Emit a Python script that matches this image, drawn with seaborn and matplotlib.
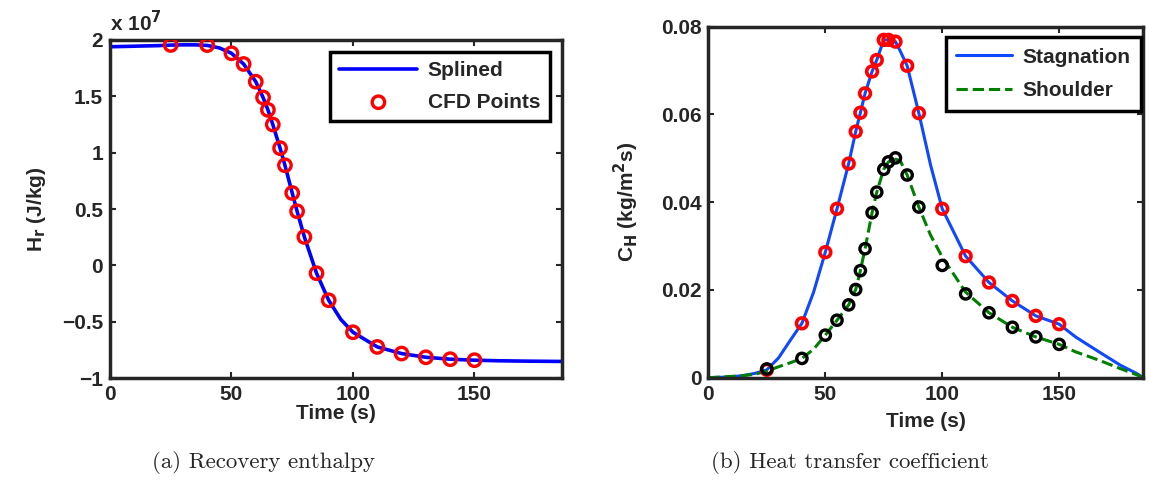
import numpy as np
import pandas as pd
import seaborn as sns
import matplotlib
import matplotlib.pyplot as plt

matplotlib.use("Agg")
sns.set_style("ticks")
plt.rcParams["font.family"] = ["Liberation Sans", "DejaVu Sans"]
plt.rcParams["font.weight"] = "bold"
plt.rcParams["mathtext.default"] = "bf"
plt.rcParams["axes.linewidth"] = 2.5

# CFD sample times (s)
t_cfd = [25, 40, 50, 55, 60, 63, 65, 67, 70, 72, 75, 77, 80, 85, 90,
         100, 110, 120, 130, 140, 150]

# Recovery enthalpy at CFD points (x 1e7 J/kg)
h_cfd = [1.956, 1.955, 1.882, 1.787, 1.63, 1.49, 1.38, 1.25, 1.04, 0.888,
         0.642, 0.48, 0.252, -0.07, -0.31, -0.594, -0.724, -0.783, -0.816,
         -0.833, -0.842]

# Splined enthalpy curve
t_spl = [0, 10, 20, 25, 30, 35, 40, 45, 50, 55, 60, 63, 65, 67, 70, 72, 75,
         77, 80, 85, 90, 95, 100, 110, 120, 130, 140, 150, 160, 170, 180, 186]
h_spl = [1.94, 1.945, 1.95, 1.955, 1.957, 1.957, 1.952, 1.93, 1.882, 1.787,
         1.63, 1.49, 1.38, 1.25, 1.04, 0.888, 0.642, 0.48, 0.252, -0.07,
         -0.31, -0.48, -0.594, -0.724, -0.783, -0.816, -0.833, -0.842,
         -0.847, -0.85, -0.852, -0.853]

# Heat transfer coefficient at CFD points (kg/m^2 s)
ch_stag_cfd = [0.0018, 0.0124, 0.0286, 0.0385, 0.0488, 0.0561, 0.0604,
               0.0648, 0.0698, 0.0724, 0.077, 0.077, 0.0766, 0.0711, 0.0603,
               0.0385, 0.0277, 0.0217, 0.0175, 0.0141, 0.0122]
ch_shou_cfd = [0.002, 0.0044, 0.0097, 0.0131, 0.0166, 0.0201, 0.0244,
               0.0294, 0.0376, 0.0423, 0.0475, 0.0492, 0.0501, 0.0462, 0.0389,
               0.0256, 0.0191, 0.0148, 0.0115, 0.0093, 0.0076]

# Spline curves for C_H
t_ch = [0, 10, 15, 20, 25, 30, 35, 40, 45, 50, 55, 60, 63, 65, 67, 70, 72,
        75, 77, 80, 82, 85, 90, 95, 100, 110, 120, 130, 140, 150, 157, 167,
        176, 183, 186]
ch_stag = [0.0, 0.0002, 0.0005, 0.001, 0.0018, 0.0045, 0.0085, 0.0124,
           0.0195, 0.0286, 0.0385, 0.0488, 0.0561, 0.0604, 0.0648, 0.0698,
           0.0724, 0.077, 0.077, 0.0766, 0.0745, 0.0711, 0.0603, 0.0485,
           0.0385, 0.0277, 0.0217, 0.0175, 0.0141, 0.0122, 0.0093, 0.0059,
           0.0029, 0.001, 0.0]
ch_shou = [0.0, 0.0003, 0.0005, 0.0008, 0.0015, 0.0025, 0.0034, 0.0044,
           0.0065, 0.0097, 0.0131, 0.0166, 0.0201, 0.0244, 0.0294, 0.0376,
           0.0423, 0.0475, 0.0492, 0.0498, 0.0495, 0.0462, 0.0389, 0.0325,
           0.0275, 0.0195, 0.0148, 0.0115, 0.0093, 0.0076, 0.0059, 0.004,
           0.0021, 0.0007, 0.0]

FS = 15

fig = plt.figure(figsize=(11.49, 4.92), dpi=100)
ax1 = fig.add_axes([0.0957, 0.2317, 0.3934, 0.687])
ax2 = fig.add_axes([0.6165, 0.2323, 0.3786, 0.7134])

# (a) Recovery enthalpy
sns.lineplot(x=t_spl, y=h_spl, color="#0000ff", linewidth=2.6,
             label="Splined", ax=ax1, zorder=2)
sns.scatterplot(x=t_cfd, y=h_cfd, marker="o", s=80, facecolors="none",
                edgecolor="#ff0000", linewidth=2.4, label="CFD Points",
                ax=ax1, zorder=3)
ax1.set_xlim(0, 186)
ax1.set_ylim(-1, 2)
ax1.set_xticks([0, 50, 100, 150])
ax1.set_yticks([-1, -0.5, 0, 0.5, 1, 1.5, 2])
ax1.set_yticklabels(["\u22121", "\u22120.5", "0", "0.5", "1", "1.5", "2"])
ax1.set_xlabel("Time (s)", fontsize=FS, fontweight="bold", labelpad=0)
ax1.set_ylabel("H$_\\mathbf{r}$ (J/kg)", fontsize=FS, fontweight="bold",
               labelpad=10)
ax1.text(0.0, 1.015, "x 10$^\\mathbf{7}$", transform=ax1.transAxes,
         fontsize=FS, fontweight="bold", ha="left", va="bottom")
leg1 = ax1.legend(loc="upper right", bbox_to_anchor=(0.973, 0.965),
                  fontsize=FS, frameon=True, fancybox=False,
                  handlelength=3.75, borderpad=0.45, labelspacing=0.6,
                  handletextpad=0.5, borderaxespad=0)
leg1.get_frame().set_edgecolor("black")
leg1.get_frame().set_linewidth(2.5)
leg1.get_frame().set_alpha(1)

# (b) Heat transfer coefficient
sns.lineplot(x=t_ch, y=ch_stag, color="#1048ff", linewidth=2.2,
             label="Stagnation", ax=ax2, zorder=2)
sns.lineplot(x=t_ch, y=ch_shou, color="#008000", linewidth=2.2,
             linestyle="--", dashes=(4, 3), label="Shoulder", ax=ax2,
             zorder=2)
sns.scatterplot(x=t_cfd, y=ch_stag_cfd, marker="o", s=60, facecolors="none",
                edgecolor="#ff0000", linewidth=2.6, ax=ax2, zorder=3)
sns.scatterplot(x=t_cfd, y=ch_shou_cfd, marker="o", s=55, facecolors="none",
                edgecolor="black", linewidth=2.4, ax=ax2, zorder=3)
ax2.set_xlim(0, 186)
ax2.set_ylim(0, 0.08)
ax2.set_xticks([0, 50, 100, 150])
ax2.set_yticks([0, 0.02, 0.04, 0.06, 0.08])
ax2.set_yticklabels(["0", "0.02", "0.04", "0.06", "0.08"])
ax2.set_xlabel("Time (s)", fontsize=FS, fontweight="bold", labelpad=6)
ax2.set_ylabel("C$_\\mathbf{H}$ (kg/m$^\\mathbf{2}$s)", fontsize=FS,
               fontweight="bold", labelpad=14)
leg2 = ax2.legend(loc="upper right", bbox_to_anchor=(0.995, 0.97),
                  fontsize=FS, frameon=True, fancybox=False,
                  handlelength=2.7, borderpad=0.5, labelspacing=0.7,
                  handletextpad=0.5, borderaxespad=0)
leg2.get_frame().set_edgecolor("black")
leg2.get_frame().set_linewidth(2.5)
leg2.get_frame().set_alpha(1)

for ax in (ax1, ax2):
    ax.tick_params(axis="both", which="both", direction="in", top=True,
                   right=True, length=4, width=1.5, labelsize=FS, pad=5)
    for lab in ax.get_xticklabels() + ax.get_yticklabels():
        lab.set_fontweight("bold")
    for s in ax.spines.values():
        s.set_visible(True)
        s.set_linewidth(2.5)

fig.text(0.229, 0.06, "(a) Recovery enthalpy", fontname="cmr10",
         fontsize=16.5, ha="center", va="center")
fig.text(0.740, 0.06, "(b) Heat transfer coefficient", fontname="cmr10",
         fontsize=16.5, ha="center", va="center")

fig.savefig("out.png", dpi=100)
